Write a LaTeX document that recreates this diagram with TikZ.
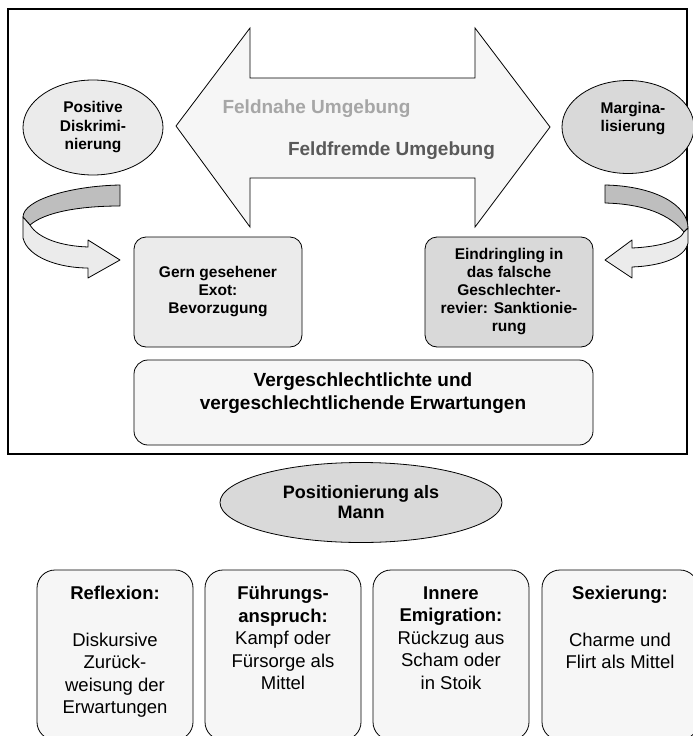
\documentclass[tikz,border=0pt]{standalone}
\usepackage{fontspec}
\setmainfont{Liberation Sans}
\usetikzlibrary{shapes.geometric,positioning}
\definecolor{lightgrey}{HTML}{EBEBEB}
\definecolor{midgrey}{HTML}{D9D9D9}
\definecolor{palegrey}{HTML}{F6F6F6}
\definecolor{bandgrey}{HTML}{BEBEBE}
\definecolor{neartext}{HTML}{A6A6A6}
\definecolor{fartext}{HTML}{595959}
\newcommand{\smallfont}{\fontsize{15.5pt}{18pt}\selectfont\bfseries}
\newcommand{\arrowfont}{\fontsize{19pt}{23pt}\selectfont\bfseries}
\tikzset
{
    ovalnode/.style = {ellipse, draw=black, line width=0.8pt, align=center, inner sep=0pt},
    smallbox/.style = {rectangle, rounded corners=12pt, draw=black, line width=0.8pt, align=center, minimum width=168pt, minimum height=110pt, font=\smallfont},
    widebox/.style  = {rectangle, rounded corners=14pt, draw=black, line width=0.8pt, fill=palegrey, minimum width=459pt, minimum height=85pt},
    stratbox/.style = {rectangle, rounded corners=18pt, draw=black, line width=0.8pt, fill=palegrey, minimum width=156pt, minimum height=170pt},
    strattext/.style = {align=center, inner sep=0pt, anchor=north, font=\fontsize{18.5pt}{22.5pt}\selectfont},
    ribbondark/.style = {draw=black, line width=0.8pt, fill=bandgrey, line join=round},
    ribbonlight/.style = {draw=black, line width=0.8pt, fill=lightgrey, line join=round},
    bigarrow/.style = {draw=black, line width=0.8pt, fill=palegrey}
}

\begin{document}
\begin{tikzpicture}[x=1pt, y=-1pt]
	\useasboundingbox (0,0) rectangle (693,736);
	% frame round the fields
	\draw[line width=1.6pt] (8,9) rectangle (687,454);
	% double arrow between the two fields
	\draw[bigarrow] (176,126) -- (250,28) -- (250,78) -- (475,78) -- (475,28) -- (550,127)
		-- (475,227) -- (475,178) -- (250,178) -- (250,227) -- cycle;
	\node[font=\arrowfont, text=neartext] (near) at (316.5,109) {Feldnahe Umgebung};
	\node[font=\arrowfont, text=fartext] (far) at (391.5,151) {Feldfremde Umgebung};
	% side ellipses
	\node[ovalnode, fill=lightgrey, minimum width=140pt, minimum height=95pt, font=\fontsize{15.5pt}{18.5pt}\selectfont\bfseries] (posdisk) at (93,127.5) {Positive\\Diskrimi-\\nierung};
	\node[ovalnode, fill=midgrey, minimum width=132pt, minimum height=93pt] (marg) at (628,127) {};
	\node[font=\fontsize{15.5pt}{18.5pt}\selectfont\bfseries, align=center] (margtext) at (633,118.5) {Margina-\\lisierung};
	% curved arrows
	\draw[ribbondark] (120,185) .. controls (70,186) and (23,200) .. (23,217) -- (30,225)
		.. controls (45,212) and (80,206) .. (120,206) -- cycle;
	\draw[ribbonlight] (23,217) -- (23,238) .. controls (28,258) and (60,268) .. (88,268)
		-- (88,278) -- (120,260) -- (88,240) -- (88,247) .. controls (60,246) and (38,238) .. (30,225) -- cycle;
	\draw[ribbondark] (605,185) .. controls (655,186) and (688,205) .. (688,228) -- (684,232)
		.. controls (670,215) and (645,204) .. (605,203) -- cycle;
	\draw[ribbonlight] (688,228) -- (688,243) .. controls (685,258) and (660,266) .. (632,267)
		-- (632,278) -- (605,260) -- (632,240) -- (632,248) .. controls (655,247) and (680,242) .. (684,232) -- cycle;
	% boxes inside the frame
	\node[smallbox, fill=lightgrey] (exot) at (218,292) {Gern gesehener\\Exot:\\Bevorzugung};
	\node[smallbox, fill=midgrey] (intruder) at (509,292) {Eindringling in\\das falsche\\Geschlechter-\\revier: Sanktionie-\\rung};
	\node[widebox] (expect) at (363.5,402.5) {};
	\node[font=\arrowfont, align=center] (expecttext) at (363,393) {Vergeschlechtlichte und\\vergeschlechtlichende Erwartungen};
	% position
	\node[ovalnode, fill=midgrey, minimum width=282pt, minimum height=80pt, font=\fontsize{18pt}{20pt}\selectfont\bfseries] (mann) at (361,502.5) {Positionierung als\\Mann};
	% strategies
	\node[stratbox] (reflex) at (115,655) {};
	\node[stratbox] (lead) at (283,655) {};
	\node[stratbox] (inner) at (451,655) {};
	\node[stratbox] (sexier) at (620,655) {};
	\node[strattext, below=16.5pt of reflex.north] (reflextext) {\textbf{Reflexion:}\\[24pt]Diskursive\\Zurück-\\weisung der\\Erwartungen};
	\node[strattext, below=16.5pt of lead.north] (leadtext) {\textbf{Führungs-}\\\textbf{anspruch:}\\Kampf oder\\Fürsorge als\\Mittel};
	\node[strattext, below=16.5pt of inner.north] (innertext) {\textbf{Innere}\\\textbf{Emigration:}\\Rückzug aus\\Scham oder\\in Stoik};
	\node[strattext, below=16.5pt of sexier.north] (sexiertext) {\textbf{Sexierung:}\\[24pt]Charme und\\Flirt als Mittel};
\end{tikzpicture}
\end{document}
